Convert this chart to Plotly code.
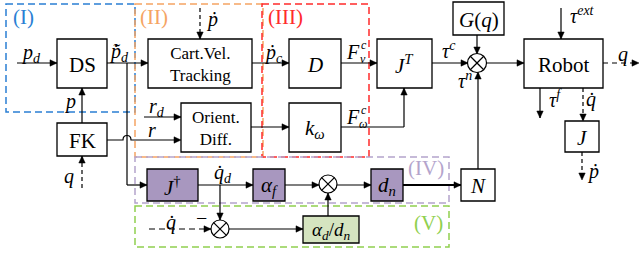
import plotly.graph_objects as go
import math

# ---------------- data (diagram content) ----------------
block_names = ["DS", "FK", "Cart", "Orient", "D", "kw", "JT", "Gq", "Robot", "J", "N", "Jdag", "af", "dn", "adn"]
block_labels = ["DS", "FK", "Cart.Vel.<br>Tracking", "Orient.<br>Diff.", "<i>D</i>",
                "<i>k</i><sub><i>ω</i></sub>", "<i>J</i><sup><i>T</i></sup>", "<i>G</i>(<i>q</i>)",
                "Robot", "<i>J</i>", "<i>N</i>", "<i>J</i><sup>†</sup>", "<i>α</i><sub><i>f</i></sub>",
                "<i>d</i><sub><i>n</i></sub>", "<i>α</i><sub><i>d</i></sub>/<i>d</i><sub><i>n</i></sub>"]
block_kind = ["plain"] * 11 + ["iv", "iv", "iv", "v"]
region_labels = ["(I)", "(II)", "(III)", "(IV)", "(V)"]
signal_labels = ["<i>p</i><sub><i>d</i></sub>", "<i>p\u0303\u0307</i><sub><i>d</i></sub>", "<i>p</i>", "<i>q</i>",
                 "<i>r</i><sub><i>d</i></sub>", "<i>r</i>", "<i>ṗ</i>", "<i>ṗ</i><sub><i>c</i></sub>",
                 "<i>τ</i><sup><i>c</i></sup>", "<i>τ</i><sup><i>ext</i></sup>", "<i>q</i>",
                 "<i>τ</i><sup><i>f</i></sup>", "<i>q\u0307</i>", "<i>ṗ</i>", "<i>τ</i><sup><i>n</i></sup>",
                 "<i>q\u0307</i><sub><i>d</i></sub>", "<i>q\u0307</i>", "−"]

# ---------------- layout geometry ----------------
geom = {
    "DS": (57, 39, 107, 88), "FK": (57, 123, 107, 156), "Cart": (148, 39, 252, 88),
    "Orient": (181, 103, 251, 152), "D": (289, 39, 341, 88), "kw": (289, 103, 341, 152),
    "JT": (377, 39, 432, 88), "Gq": (453, 2, 504, 35), "Robot": (524, 39, 603, 88),
    "J": (565, 121, 599, 152), "N": (461, 169, 495, 201), "Jdag": (147, 169, 198, 201),
    "af": (253, 169, 285, 201), "dn": (371, 169, 403, 201), "adn": (303, 216, 359, 243),
}
font_sizes = {"DS": 21, "FK": 21, "Cart": 17, "Orient": 17, "Robot": 21, "Gq": 21, "adn": 19}
region_boxes = [((6, 4, 135, 112), "#2a7fd4"), ((135, 4, 263, 157), "#f5a463"),
                ((262, 4, 369, 157), "#ff2b2b"), ((135, 157, 449, 203), "#b4a4cc"),
                ((135, 206, 449, 247), "#90d04f")]
region_pos = [(23, 17), (154, 17), (285, 17), (426, 168), (428, 223)]
signal_pos = [(31, 53), (119, 52), (70, 101), (69, 176), (157, 107), (152, 130), (212, 19), (273, 53),
              (449, 50), (582, 15), (623, 54), (555, 99), (591, 99), (593, 171), (465, 80),
              (223, 173), (171, 222), (201, 218)]

FONT = "Liberation Serif, DejaVu Serif, serif"
shapes = []
annotations = []
BLK = "black"
LW = 1.2


def line(x0, y0, x1, y1, dash=None, width=LW, color=BLK):
    shapes.append(dict(type="line", x0=x0, y0=y0, x1=x1, y1=y1, xref="x", yref="y",
                       line=dict(color=color, width=width, dash=dash or "solid")))


def head(x0, y0, x1, y1, L=7, W=3.2):
    dx, dy = x1 - x0, y1 - y0
    n = math.hypot(dx, dy)
    ux, uy = dx / n, dy / n
    bx, by = x1 - L * ux, y1 - L * uy
    p1 = (bx - W * uy, by + W * ux)
    p2 = (bx + W * uy, by - W * ux)
    shapes.append(dict(type="path", xref="x", yref="y",
                       path=f"M{x1},{y1} L{p1[0]},{p1[1]} L{p2[0]},{p2[1]} Z",
                       fillcolor=BLK, line=dict(color=BLK, width=0.5)))


def arrow(pts, dash=None, width=LW):
    for (a, b), (c, d) in zip(pts[:-1], pts[1:]):
        line(a, b, c, d, dash=dash, width=width)
    head(*pts[-2], *pts[-1])


def circ(cx, cy, r=9):
    shapes.append(dict(type="circle", xref="x", yref="y", x0=cx - r, y0=cy - r, x1=cx + r, y1=cy + r,
                       line=dict(color=BLK, width=LW), fillcolor="white"))
    k = r / math.sqrt(2)
    line(cx - k, cy - k, cx + k, cy + k)
    line(cx - k, cy + k, cx + k, cy - k)


def text(t, x, y, size=17, color=BLK):
    annotations.append(dict(text=t, x=x, y=y, xref="x", yref="y", showarrow=False,
                            font=dict(family=FONT, size=size, color=color),
                            xanchor="center", yanchor="middle"))


# region dashed boxes
for (x0, y0, x1, y1), col in region_boxes:
    shapes.append(dict(type="rect", xref="x", yref="y", x0=x0, y0=y0, x1=x1, y1=y1,
                       line=dict(color=col, width=1.5, dash="7px,4px"), fillcolor="rgba(0,0,0,0)"))

# connections
arrow([(17, 63), (57, 63)])                     # p_d -> DS
arrow([(107, 63), (148, 63)])                   # DS -> Cart
line(127, 63, 127, 185)
arrow([(127, 185), (147, 185)])                 # -> J dagger
arrow([(82, 123), (82, 88)])                    # FK -> DS
arrow([(82, 188), (82, 156)], dash="4px,3px")   # q -> FK
shapes.append(dict(type="path", xref="x", yref="y",
                   path="M107,140 L123,140 C123,134 131,134 131,140 L174,140",
                   line=dict(color=BLK, width=LW)))
head(170, 140, 181, 140)                        # r -> Orient
arrow([(144, 117), (181, 117)])                 # r_d
arrow([(200, 8), (200, 39)], dash="4px,3px")    # pdot -> Cart
arrow([(252, 63), (289, 63)])                   # Cart -> D
arrow([(251, 127), (289, 127)])                 # Orient -> k_w
arrow([(341, 63), (377, 63)])                   # D -> J^T
arrow([(341, 127), (404, 127), (404, 88)])      # k_w -> J^T
arrow([(432, 63), (468, 63)])                   # J^T -> sum
arrow([(477, 35), (477, 54)])                   # G(q) -> sum
arrow([(478, 169), (478, 72)])                  # N -> sum
arrow([(486, 63), (524, 63)])                   # sum -> Robot
arrow([(561, 8), (561, 39)])                    # tau_ext
arrow([(603, 63), (639, 63)], dash="5px,4px")   # q out
arrow([(540, 88), (540, 118)])                  # tau_f
arrow([(583, 88), (583, 121)], dash="4px,3px")  # qdot -> J
arrow([(582, 152), (582, 180)], dash="4px,3px") # J -> pdot
arrow([(198, 185), (253, 185)])                 # J dag -> alpha_f
arrow([(285, 185), (319, 185)])                 # alpha_f -> sum2
arrow([(337, 185), (371, 185)])                 # sum2 -> d_n
arrow([(403, 185), (461, 185)], width=2)        # d_n -> N
arrow([(220, 185), (220, 220)])                 # qdot_d -> sum3
arrow([(149, 229), (211, 229)], dash="6px,4px") # qdot -> sum3
arrow([(229, 229), (303, 229)])                 # sum3 -> alpha_d/d_n
arrow([(328, 216), (328, 193)])                 # alpha_d/d_n -> sum2

circ(477, 63, 9.5)
circ(328, 184, 9)
circ(220, 229, 9)

# blocks
for name, lab, kind in zip(block_names, block_labels, block_kind):
    x0, y0, x1, y1 = geom[name]
    fill = {"plain": "white", "iv": "#a897bf", "v": "#d5e4c0"}[kind]
    shapes.append(dict(type="rect", xref="x", yref="y", x0=x0, y0=y0, x1=x1, y1=y1,
                       line=dict(color=BLK, width=1.3), fillcolor=fill))
    text(lab, (x0 + x1) / 2, (y0 + y1) / 2 + 1, font_sizes.get(name, 21))

# F labels with stacked sub/sup
for sub, y in [("<i>v</i>", 52), ("<i>ω</i>", 117)]:
    text("<i>F</i>", 353, y, 20)
    text(sub, 363, y + 7, 12)
    text("<i>c</i>", 364, y - 7, 12)

# signal labels
for t, (x, y) in zip(signal_labels, signal_pos):
    text(t, x, y, 20)

# region labels
for t, (x, y), (_, col) in zip(region_labels, region_pos, region_boxes):
    text(t, x, y, 21, col)

fig = go.Figure()
fig.update_layout(width=640, height=257, margin=dict(l=0, r=0, t=0, b=0),
                  paper_bgcolor="white", plot_bgcolor="white",
                  font=dict(family=FONT),
                  xaxis=dict(range=[0, 640], visible=False, fixedrange=True),
                  yaxis=dict(range=[257, 0], visible=False, fixedrange=True),
                  shapes=shapes, annotations=annotations, showlegend=False)
fig.write_html("out.html", config={"displayModeBar": False},
               post_script="document.body.style.margin='0';document.body.style.overflow='hidden';")
